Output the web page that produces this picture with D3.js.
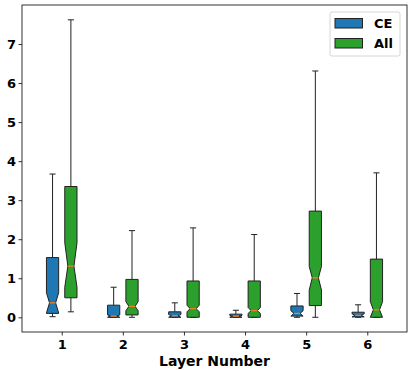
<!DOCTYPE html>
<html>
<head>
<meta charset="utf-8">
<script src="https://cdn.jsdelivr.net/npm/d3@7"></script>
<style>
  body { margin: 0; background: #fff; }
  svg { font-family: "DejaVu Sans", sans-serif; }
</style>
</head>
<body>
<svg id="chart"></svg>
<script>
// layers on the x axis
const layers = [1, 2, 3, 4, 5, 6];
const seriesNames = ["CE", "All"];
const yTicks = [0, 1, 2, 3, 4, 5, 6, 7];

// CE box stats
const ceLow = [0.015, 0.0, 0.0, 0.0, 0.0, 0.0];
const ceQ1 = [0.10, 0.0, 0.0, 0.0, 0.03, 0.01];
const ceMed = [0.37, 0.03, 0.04, 0.03, 0.10, 0.05];
const ceQ3 = [1.53, 0.31, 0.14, 0.08, 0.29, 0.13];
const ceHigh = [3.67, 0.77, 0.37, 0.18, 0.61, 0.32];
const ceNotchLo = [0.11, 0.0, 0.0, 0.0, 0.03, 0.01];
const ceNotchHi = [0.63, 0.06, 0.07, 0.05, 0.17, 0.09];

// All box stats
const allLow = [0.14, 0.0, 0.0, 0.0, 0.0, 0.0];
const allQ1 = [0.50, 0.06, 0.0, 0.0, 0.30, 0.0];
const allMed = [1.31, 0.28, 0.22, 0.17, 1.01, 0.19];
const allQ3 = [3.35, 0.97, 0.93, 0.93, 2.72, 1.49];
const allHigh = [7.62, 2.22, 2.29, 2.12, 6.31, 3.70];
const allNotchLo = [0.77, 0.17, 0.14, 0.10, 0.70, 0.0];
const allNotchHi = [1.91, 0.40, 0.31, 0.25, 1.30, 0.40];

const colors = { CE: "#1f77b4", All: "#2ca02c" };

// 描画サイズ
const size = { width: 412, height: 370 };
const margin = { top: 5, right: 5, bottom: 38, left: 22 };
const width = size.width - margin.left - margin.right;
const height = size.height - margin.top - margin.bottom;

const svg = d3.select("#chart")
  .attr("width", size.width)
  .attr("height", size.height);

const g = svg.append("g")
  .attr("transform", "translate(" + margin.left + "," + margin.top + ")");

const x = d3.scaleLinear().domain([0.35, 6.65]).range([0, width]);
const y = d3.scaleLinear().domain([-0.377, 8.0]).range([height, 0]);

const offset = { CE: -0.15, All: 0.15 };
const boxW = 0.2;

function boxData(name) {
  const s = name === "CE"
    ? [ceLow, ceQ1, ceMed, ceQ3, ceHigh, ceNotchLo, ceNotchHi]
    : [allLow, allQ1, allMed, allQ3, allHigh, allNotchLo, allNotchHi];
  return layers.map((l, i) => ({
    name: name, pos: l + offset[name],
    lo: s[0][i], q1: s[1][i], med: s[2][i], q3: s[3][i], hi: s[4][i],
    nlo: s[5][i], nhi: s[6][i]
  }));
}

seriesNames.forEach(name => {
  const data = boxData(name);
  const grp = g.append("g");

  data.forEach(d => {
    const cx = x(d.pos);
    const half = (x(boxW) - x(0)) / 2;
    const capHalf = half / 2;
    // whiskers
    grp.append("line")
      .attr("x1", cx).attr("x2", cx)
      .attr("y1", y(d.q3)).attr("y2", y(d.hi))
      .attr("stroke", "#222").attr("stroke-width", 1);
    grp.append("line")
      .attr("x1", cx).attr("x2", cx)
      .attr("y1", y(d.q1)).attr("y2", y(d.lo))
      .attr("stroke", "#222").attr("stroke-width", 1);
    // caps
    [d.hi, d.lo].forEach(v => {
      grp.append("line")
        .attr("x1", cx - capHalf).attr("x2", cx + capHalf)
        .attr("y1", y(v)).attr("y2", y(v))
        .attr("stroke", "#222").attr("stroke-width", 1);
    });
    // notched box
    const l = cx - half, r = cx + half;
    const inset = half / 2;
    const pts = [
      [l, y(d.q3)], [r, y(d.q3)], [r, y(d.nhi)], [r - inset, y(d.med)],
      [r, y(d.nlo)], [r, y(d.q1)], [l, y(d.q1)], [l, y(d.nlo)],
      [l + inset, y(d.med)], [l, y(d.nhi)]
    ];
    grp.append("path")
      .attr("d", d3.line()(pts) + "Z")
      .attr("fill", colors[name])
      .attr("stroke", "#222")
      .attr("stroke-width", 1);
    // median
    grp.append("line")
      .attr("x1", l + inset).attr("x2", r - inset)
      .attr("y1", y(d.med)).attr("y2", y(d.med))
      .attr("stroke", "#ff7f0e").attr("stroke-width", 1.2);
  });
});

// axes
const xAxis = g.append("g")
  .attr("transform", "translate(0," + height + ")")
  .call(d3.axisBottom(x).tickValues(layers).tickFormat(d3.format("d")).tickSizeOuter(0).tickSize(3.5));
const yAxis = g.append("g")
  .call(d3.axisLeft(y).tickValues(yTicks).tickFormat(d3.format("d")).tickSizeOuter(0).tickSize(3.5));

[xAxis, yAxis].forEach(a => {
  a.select(".domain").remove();
  a.selectAll("text")
    .attr("font-family", "DejaVu Sans")
    .attr("font-weight", "bold")
    .attr("font-size", 13)
    .attr("fill", "#000");
  a.selectAll("line").attr("stroke", "#000").attr("stroke-width", 0.8);
});
xAxis.selectAll("text").attr("dy", "0.85em").attr("y", 5.5);
yAxis.selectAll("text").attr("x", -6);

// frame
g.append("rect")
  .attr("x", 0).attr("y", 0)
  .attr("width", width).attr("height", height)
  .attr("fill", "none")
  .attr("stroke", "#000").attr("stroke-width", 0.8);

// x label
svg.append("text")
  .attr("x", margin.left + width / 2)
  .attr("y", 366)
  .attr("text-anchor", "middle")
  .attr("font-family", "DejaVu Sans")
  .attr("font-weight", "bold")
  .attr("font-size", 14)
  .text("Layer Number");

// legend
const legend = svg.append("g").attr("transform", "translate(330,12)");
legend.append("rect")
  .attr("width", 70).attr("height", 44)
  .attr("rx", 2)
  .attr("fill", "#fff").attr("fill-opacity", 0.8)
  .attr("stroke", "#ccc").attr("stroke-width", 0.8);
seriesNames.forEach((name, i) => {
  legend.append("rect")
    .attr("x", 5).attr("y", 6.5 + i * 20)
    .attr("width", 27.5).attr("height", 9.5)
    .attr("fill", colors[name])
    .attr("stroke", "#222").attr("stroke-width", 1);
  legend.append("text")
    .attr("x", 44).attr("y", 16 + i * 20)
    .attr("font-family", "DejaVu Sans")
    .attr("font-weight", "bold")
    .attr("font-size", 13)
    .text(name);
});
</script>
</body>
</html>
